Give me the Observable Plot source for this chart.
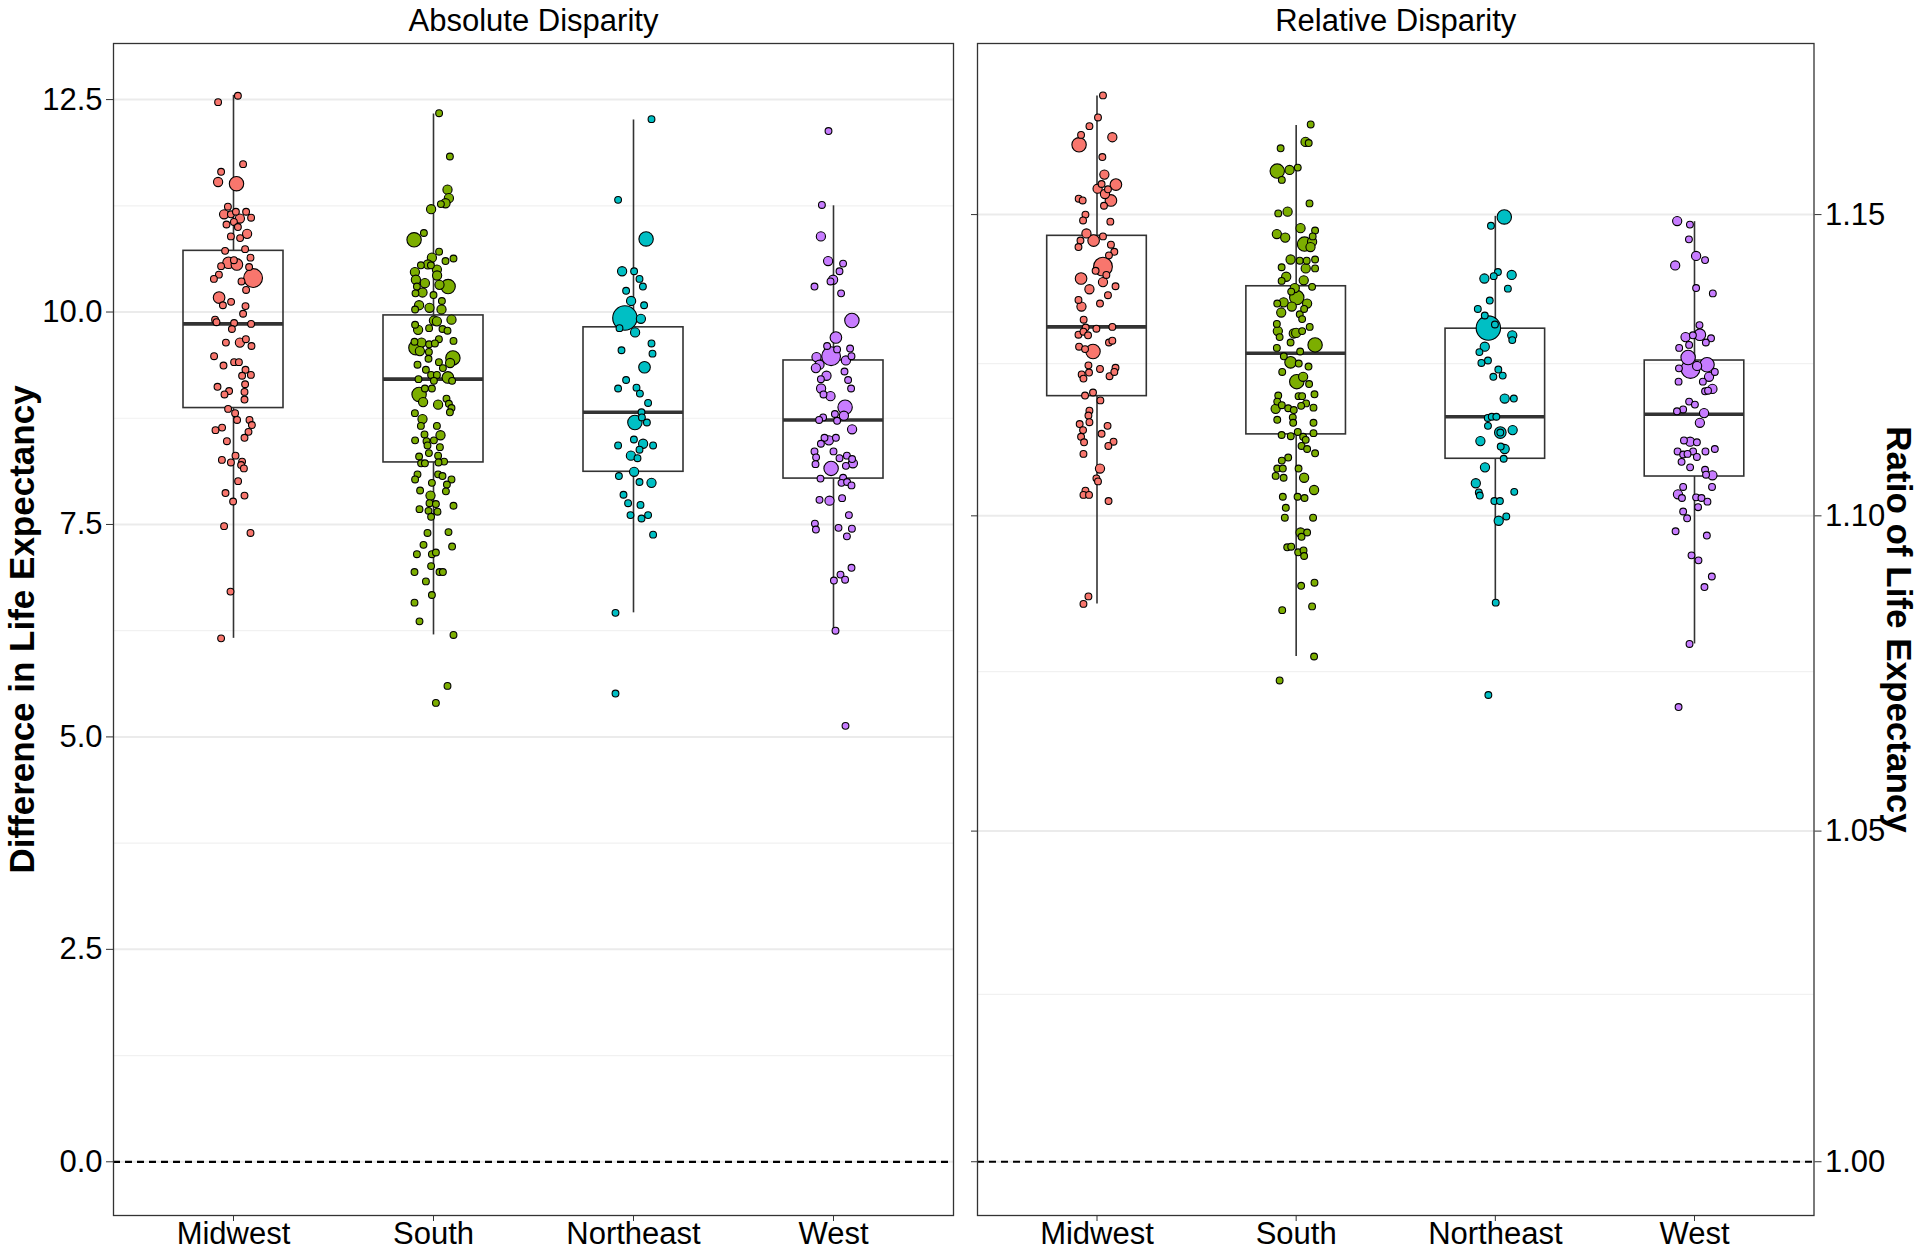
<!DOCTYPE html>
<html>
<head>
<meta charset="utf-8">
<script src="https://cdn.jsdelivr.net/npm/d3@7"></script>
<script src="https://cdn.jsdelivr.net/npm/@observablehq/plot@0.6"></script>
<style>
  html, body { margin: 0; padding: 0; background: #fff; }
  #wrap { position: relative; width: 1920px; height: 1250px; overflow: hidden; }
  #left, #right { position: absolute; top: 0; }
  #left { left: 0; }
  #right { left: 960px; }
</style>
</head>
<body>
<div id="wrap"><div id="left"></div><div id="right"></div></div>
<script>
// ---- categories & styling data ----
const regions = ["Midwest", "South", "Northeast", "West"];
const regionColors = ["#F8766D", "#7CAE00", "#00BFC4", "#C77CFF"];
const sizeRadii = [0, 3.4, 4.6, 5.8, 7.2, 9.4, 12.2]; // size classes 1..6

// ---- tick values ----
const absTicks = [0, 2.5, 5, 7.5, 10, 12.5];
const absMinor = [1.25, 3.75, 6.25, 8.75, 11.25];
const relTicks = [1.00, 1.05, 1.10, 1.15];
const relMinor = [1.025, 1.075, 1.125];

// ---- box statistics (lo, q1, median, q3, hi) per region ----
const absLo  = [6.16, 6.20, 6.46, 6.26];
const absQ1  = [8.87, 8.23, 8.12, 8.04];
const absMed = [9.86, 9.21, 8.82, 8.73];
const absQ3  = [10.72, 9.96, 9.82, 9.43];
const absHi  = [12.55, 12.33, 12.26, 11.25];

const relLo  = [1.0858, 1.0774, 1.0860, 1.0794];
const relQ1  = [1.1196, 1.1133, 1.1093, 1.1064];
const relMed = [1.1311, 1.1267, 1.1162, 1.1166];
const relQ3  = [1.1464, 1.1379, 1.1308, 1.1255];
const relHi  = [1.1703, 1.1652, 1.1497, 1.1488];

// ---- points: [jitter offset, value, size class] ----
const midwestAbs = [[.022,12.545,1],[-.077,12.47,1],[.048,11.74,1],[-.062,11.65,1],[-.077,11.53,2],[.015,11.51,4],[-.028,11.24,1],[-.047,11.15,2],[-.013,11.15,1],[.012,11.18,1],[.032,11.10,2],[.063,11.18,1],[.088,11.11,1],[-.035,11.03,1],[.002,11.06,1],[.022,11.0,1],[.068,10.92,2],[-.013,10.89,1],[.033,10.87,1],[-.042,10.72,1],[.058,10.74,1],[.085,10.64,1],[-.025,10.58,3],[.017,10.56,3],[.002,10.61,1],[.078,10.53,1],[-.062,10.54,1],[-.073,10.44,1],[-.098,10.39,1],[.098,10.40,5],[.04,10.36,1],[.063,10.26,1],[-.072,10.17,3],[-.053,10.08,1],[-.012,10.12,1],[.06,10.07,1],[.048,9.98,1],[-.092,9.91,1],[-.085,9.88,1],[.003,9.87,1],[.088,9.86,1],[-.008,9.80,1],[-.038,9.64,1],[.032,9.64,2],[.062,9.68,1],[.09,9.60,1],[-.097,9.48,1],[-.05,9.37,1],[.003,9.41,1],[.027,9.41,1],[.06,9.32,1],[.043,9.25,1],[.087,9.26,1],[-.08,9.12,1],[-.022,9.07,1],[-.045,9.03,1],[.058,9.15,1],[.055,9.06,1],[.055,8.97,1],[-.027,8.86,1],[.008,8.81,1],[.018,8.73,1],[.08,8.73,1],[.092,8.67,1],[-.09,8.61,1],[-.057,8.64,1],[.075,8.59,1],[.055,8.52,1],[-.033,8.48,1],[.01,8.31,1],[-.058,8.26,1],[-.013,8.23,1],[.043,8.24,1],[.038,8.20,1],[.052,8.16,1],[.023,8.01,1],[-.04,7.87,1],[.055,7.84,1],[-.002,7.77,1],[-.047,7.48,1],[.085,7.40,1],[-.015,6.71,1],[-.062,6.16,1]];

const southAbs = [[.028,12.34,1],[.082,11.83,1],[.07,11.44,2],[.077,11.34,2],[.06,11.28,2],[.037,11.27,1],[-.012,11.21,2],[-.097,10.85,4],[-.048,10.93,1],[.028,10.71,1],[-.008,10.64,2],[.06,10.60,1],[.1,10.63,1],[-.063,10.55,1],[-.028,10.56,2],[.017,10.5,2],[-.093,10.47,2],[-.013,10.55,1],[.018,10.43,2],[.073,10.30,4],[-.088,10.38,2],[-.043,10.34,2],[-.083,10.30,1],[-.055,10.23,2],[.03,10.32,2],[0,10.20,1],[-.09,10.22,1],[.042,10.13,1],[-.072,10.08,2],[-.02,10.05,2],[.04,10.03,2],[-.092,10.03,1],[.09,9.91,2],[.002,9.90,2],[.017,9.89,2],[-.092,9.85,1],[-.077,9.79,2],[-.022,9.81,1],[.045,9.80,1],[.07,9.78,1],[.1,9.66,1],[.027,9.68,1],[-.095,9.65,1],[-.06,9.64,2],[-.022,9.62,1],[.007,9.63,1],[-.088,9.58,4],[-.068,9.54,2],[-.023,9.53,1],[.097,9.46,4],[.083,9.40,2],[.027,9.41,1],[-.08,9.38,1],[-.025,9.45,1],[.047,9.34,1],[-.038,9.32,1],[-.012,9.26,1],[.017,9.26,1],[.072,9.23,3],[-.075,9.21,1],[.002,9.19,1],[.093,9.19,1],[-.043,9.10,1],[-.008,9.10,1],[-.072,9.03,4],[-.052,8.94,2],[.023,8.91,2],[.065,8.98,1],[.077,8.92,1],[.09,8.87,1],[.082,8.82,1],[-.093,8.81,1],[-.055,8.74,2],[-.063,8.66,1],[.017,8.66,1],[.035,8.55,2],[-.092,8.49,1],[-.045,8.56,1],[-.035,8.48,1],[.002,8.49,1],[-.03,8.43,1],[.032,8.41,1],[-.072,8.30,1],[-.023,8.34,1],[.023,8.31,1],[-.062,8.22,1],[-.043,8.22,1],[.053,8.24,1],[.025,8.23,1],[-.08,8.09,1],[.023,8.09,1],[.045,8.07,1],[-.092,8.03,1],[.09,8.03,1],[-.008,7.99,1],[-.067,7.90,1],[.067,7.97,1],[.062,7.89,1],[-.015,7.84,2],[-.02,7.75,1],[.012,7.74,1],[-.07,7.68,1],[-.025,7.66,1],[.02,7.65,1],[-.012,7.59,1],[.1,7.72,1],[-.03,7.40,1],[.075,7.41,1],[-.05,7.26,1],[.093,7.24,1],[-.083,7.15,1],[-.008,7.15,1],[.012,7.17,1],[-.012,7.01,1],[-.095,6.94,1],[-.038,6.83,1],[.03,6.94,1],[.047,6.94,1],[-.008,6.67,1],[-.095,6.58,1],[-.07,6.36,1],[.1,6.20,1],[.07,5.60,1],[.012,5.40,1]];

const northeastAbs = [[.09,12.27,1],[-.077,11.32,1],[.063,10.86,4],[-.057,10.48,2],[.003,10.48,1],[.03,10.39,1],[.047,10.30,1],[-.037,10.25,1],[-.012,10.13,2],[.053,10.08,1],[-.043,9.93,6],[.037,9.92,2],[-.07,9.81,1],[.008,9.76,2],[.09,9.63,1],[.095,9.51,1],[-.06,9.55,1],[.055,9.35,3],[-.037,9.20,1],[-.077,9.10,1],[.015,9.11,1],[.032,9.04,1],[.073,8.93,1],[.04,8.82,1],[.042,8.76,1],[.007,8.70,4],[.067,8.70,1],[.002,8.50,1],[-.077,8.43,1],[.048,8.45,2],[.098,8.43,1],[.03,8.38,1],[-.013,8.31,2],[.02,8.28,1],[.003,8.12,2],[-.073,8.07,1],[.03,8.0,1],[.09,7.99,2],[-.05,7.85,1],[-.027,7.75,1],[.035,7.73,1],[-.015,7.61,1],[.073,7.61,1],[.04,7.57,1],[.098,7.38,1],[-.09,6.46,1],[-.09,5.51,1]];

const westAbs = [[-.025,12.13,1],[-.058,11.26,1],[-.063,10.89,2],[-.027,10.60,2],[.048,10.57,1],[.03,10.48,1],[-.002,10.38,2],[-.015,10.36,1],[-.095,10.30,1],[.038,10.22,1],[.092,9.90,4],[.012,9.70,3],[-.032,9.60,1],[.018,9.56,1],[.083,9.57,1],[-.012,9.48,5],[-.085,9.47,2],[.062,9.43,2],[.09,9.48,1],[-.07,9.38,2],[-.088,9.34,2],[-.035,9.25,2],[.055,9.30,1],[-.063,9.21,1],[.073,9.20,1],[-.062,9.10,2],[.088,9.10,1],[-.05,9.03,1],[-.015,9.01,2],[.058,8.88,4],[.052,8.78,2],[.007,8.80,1],[-.052,8.76,1],[-.072,8.73,1],[.018,8.72,1],[.093,8.62,2],[-.045,8.52,1],[-.023,8.49,2],[.012,8.52,1],[-.063,8.45,1],[-.095,8.36,1],[0,8.36,1],[-.087,8.29,1],[.03,8.28,1],[.067,8.31,1],[.093,8.27,1],[.097,8.22,2],[-.09,8.21,1],[.062,8.19,1],[-.012,8.16,4],[-.065,8.04,1],[.048,8.05,1],[.04,7.99,1],[.068,8.0,1],[.09,7.96,1],[-.07,7.79,1],[-.02,7.78,2],[.043,7.81,1],[.077,7.61,1],[-.093,7.51,1],[-.088,7.44,1],[.025,7.46,1],[.092,7.45,1],[.067,7.36,1],[.09,6.99,1],[.035,6.91,1],[.058,6.85,1],[.002,6.84,1],[.01,6.25,1],[.06,5.13,1]];

const midwestRel = [[.03,1.1704,1],[.005,1.1666,1],[-.038,1.1651,1],[-.08,1.1636,1],[-.09,1.1619,4],[.077,1.1632,2],[.027,1.1598,1],[.037,1.1568,2],[.095,1.1551,3],[.023,1.1552,1],[.003,1.1544,2],[.055,1.1543,1],[.04,1.1535,2],[.07,1.1524,3],[-.092,1.1527,1],[-.072,1.1524,1],[.035,1.1515,1],[-.058,1.1500,1],[-.07,1.1490,1],[.067,1.1488,1],[-.053,1.1468,2],[-.017,1.1456,3],[.03,1.1463,1],[-.083,1.1456,1],[-.093,1.1445,1],[.07,1.1449,1],[.087,1.1437,1],[.06,1.1431,1],[.03,1.1412,5],[-.007,1.1405,1],[.047,1.1398,1],[-.08,1.1392,3],[.03,1.1386,2],[.093,1.1379,1],[-.038,1.1374,2],[.055,1.1364,1],[-.093,1.1356,1],[-.078,1.1345,2],[.015,1.1350,1],[-.067,1.1323,1],[.077,1.1311,1],[-.003,1.1308,1],[-.057,1.1310,1],[-.093,1.1298,1],[-.068,1.1303,1],[-.045,1.1297,1],[.06,1.1285,1],[.077,1.1288,1],[-.09,1.1278,1],[-.02,1.1270,4],[-.06,1.1274,1],[-.043,1.1247,1],[.015,1.1241,1],[.093,1.1243,1],[-.077,1.1232,1],[-.04,1.1235,1],[-.068,1.1225,1],[.063,1.1229,1],[.087,1.1236,1],[-.06,1.1197,1],[-.02,1.1202,1],[.017,1.1189,1],[-.038,1.1172,1],[-.043,1.1164,1],[-.038,1.1153,1],[-.087,1.1150,1],[.053,1.1147,1],[-.07,1.1140,1],[-.08,1.1129,1],[.023,1.1134,1],[-.065,1.1120,1],[.083,1.1121,1],[.057,1.1114,1],[-.068,1.1101,1],[.015,1.1077,2],[-.003,1.1061,1],[.005,1.1056,1],[-.058,1.1041,1],[-.068,1.1034,1],[-.04,1.1034,1],[.058,1.1024,1],[-.043,1.0870,1],[-.068,1.0858,1]];

const southRel = [[.073,1.1654,1],[.047,1.1624,2],[.063,1.1622,1],[-.078,1.1613,1],[-.095,1.1574,4],[-.033,1.1576,2],[.008,1.1580,1],[-.072,1.1559,1],[.067,1.1519,1],[-.09,1.1502,1],[-.043,1.1505,2],[.022,1.1477,2],[.095,1.1473,1],[-.097,1.1467,2],[-.055,1.1461,2],[.083,1.1463,1],[.08,1.1454,2],[.042,1.1450,4],[.072,1.1445,2],[-.028,1.1424,2],[.018,1.1422,1],[.053,1.1422,1],[.095,1.1424,1],[-.073,1.1411,1],[.048,1.1409,2],[.095,1.1409,1],[-.05,1.1395,2],[.038,1.1389,2],[-.073,1.1388,1],[-.007,1.1376,2],[.08,1.1378,1],[-.025,1.1370,1],[.003,1.1360,4],[-.095,1.1350,1],[-.063,1.1352,2],[.055,1.1350,2],[-.022,1.1345,2],[-.075,1.1335,2],[.018,1.1332,1],[.04,1.1341,1],[-.097,1.1316,1],[.03,1.1324,1],[.068,1.1311,1],[-.092,1.1304,2],[-.012,1.1300,2],[0,1.1301,2],[.03,1.1304,1],[-.083,1.1294,1],[-.028,1.1285,1],[.095,1.1281,4],[-.097,1.1276,1],[.02,1.1270,1],[-.062,1.1262,1],[-.028,1.1252,3],[.013,1.1250,1],[.062,1.1245,1],[-.07,1.1236,1],[.035,1.1228,2],[.003,1.1220,4],[.065,1.1216,1],[-.09,1.1197,1],[.012,1.1196,1],[.03,1.1196,1],[.092,1.1199,1],[-.095,1.1187,1],[-.103,1.1175,2],[-.072,1.1181,1],[-.04,1.1176,1],[.05,1.1184,1],[.025,1.1180,1],[.087,1.1177,1],[-.012,1.1173,1],[-.095,1.1157,1],[-.017,1.1161,1],[-.015,1.1152,1],[.087,1.1152,1],[-.073,1.1132,1],[-.027,1.1130,1],[.008,1.1137,1],[.035,1.1129,1],[.087,1.1135,1],[.048,1.1124,1],[.027,1.1114,1],[.055,1.1109,1],[.095,1.1102,1],[-.04,1.1095,1],[-.072,1.1090,1],[-.095,1.1077,1],[-.067,1.1077,1],[.012,1.1077,1],[-.103,1.1065,1],[-.063,1.1062,1],[.04,1.1062,2],[.09,1.1042,2],[-.067,1.1031,1],[.007,1.1031,1],[.042,1.1029,1],[-.052,1.1013,1],[-.057,1.0997,1],[.085,1.0997,1],[.022,1.0973,2],[.055,1.0973,1],[.027,1.0966,1],[-.045,1.0949,1],[-.025,1.0950,1],[.01,1.0941,1],[.037,1.0944,1],[.04,1.0935,1],[.025,1.0887,1],[.092,1.0892,1],[-.07,1.0848,1],[.08,1.0854,1],[.09,1.0774,1],[-.083,1.0736,1]];

const northeastRel = [[.045,1.1496,4],[-.022,1.1481,1],[.013,1.1403,1],[-.008,1.1396,1],[-.055,1.1392,2],[.082,1.1398,2],[.063,1.1375,1],[-.028,1.1355,1],[-.088,1.1341,1],[-.053,1.1330,1],[-.035,1.1309,6],[-.002,1.1315,1],[.085,1.1297,2],[.085,1.1289,1],[-.053,1.1278,2],[-.08,1.1269,1],[-.037,1.1255,1],[-.07,1.1251,1],[.015,1.1240,1],[.037,1.1230,1],[-.01,1.1228,1],[.047,1.1192,2],[.093,1.1192,1],[-.038,1.1160,1],[-.018,1.1162,1],[.005,1.1162,1],[-.037,1.1147,1],[.025,1.1136,3],[.025,1.1136,1],[.087,1.1140,2],[-.075,1.1122,2],[.027,1.1113,1],[.047,1.1109,2],[.042,1.1093,1],[-.052,1.1079,2],[-.098,1.1053,2],[-.083,1.1038,1],[-.078,1.1033,1],[.095,1.1039,1],[-.005,1.1024,1],[.023,1.1024,1],[.017,1.0992,2],[.055,1.0999,1],[.002,1.0860,1],[-.035,1.0713,1]];

const westRel = [[-.087,1.1489,2],[-.023,1.1483,1],[-.028,1.1458,1],[.008,1.1430,2],[.053,1.1423,1],[-.097,1.1414,2],[.008,1.1376,1],[.092,1.1367,1],[.025,1.1314,1],[-.045,1.1294,2],[.027,1.1298,3],[-.008,1.1297,1],[.083,1.1292,1],[-.027,1.1281,1],[.057,1.1285,1],[-.077,1.1276,1],[-.032,1.1260,4],[-.02,1.1241,5],[.063,1.1248,4],[.013,1.1246,2],[-.078,1.1242,1],[.102,1.1236,1],[.073,1.1228,2],[.042,1.1220,1],[-.08,1.1220,1],[.09,1.1208,2],[.053,1.1204,1],[.068,1.1205,1],[-.027,1.1187,1],[.002,1.1182,1],[-.057,1.1174,1],[-.088,1.1171,1],[.048,1.1168,2],[.027,1.1152,2],[-.053,1.1123,1],[-.022,1.1121,2],[.012,1.1120,1],[-.085,1.1105,1],[-.057,1.1100,1],[-.007,1.1105,1],[-.035,1.1101,1],[.055,1.1105,1],[.102,1.1109,1],[.012,1.1096,1],[-.065,1.1088,1],[-.022,1.1079,1],[.053,1.1075,1],[.09,1.1066,2],[.058,1.1067,1],[.088,1.1047,1],[-.057,1.1047,1],[-.083,1.1035,2],[-.063,1.1029,1],[.008,1.1030,1],[.035,1.1029,1],[.065,1.1023,1],[.018,1.1014,1],[-.057,1.1007,1],[-.037,1.0996,1],[-.095,1.0975,1],[.062,1.0968,1],[-.015,1.0936,1],[.02,1.0928,1],[.087,1.0902,1],[.05,1.0885,1],[-.025,1.0794,1],[-.08,1.0694,1]];

// ---- build tables ----
function pointsTable(lists) {
  const out = [];
  lists.forEach((list, i) => list.forEach(([dx, v, c]) =>
    out.push({x: i + dx, y: v, r: sizeRadii[c], fill: regionColors[i]})));
  return out;
}
function boxTable(lo, q1, med, q3, hi) {
  return regions.map((name, i) => ({i, lo: lo[i], q1: q1[i], med: med[i], q3: q3[i], hi: hi[i]}));
}
const absPoints = pointsTable([midwestAbs, southAbs, northeastAbs, westAbs]);
const relPoints = pointsTable([midwestRel, southRel, northeastRel, westRel]);
const absBoxes = boxTable(absLo, absQ1, absMed, absQ3, absHi);
const relBoxes = boxTable(relLo, relQ1, relMed, relQ3, relHi);

const FONT = "'Liberation Sans', Arial, Helvetica, sans-serif";
const BW = 0.25;

function boxMarks(boxes) {
  return [
    Plot.ruleX(boxes, {x: "i", y1: "q3", y2: "hi", stroke: "#333", strokeWidth: 1.6}),
    Plot.ruleX(boxes, {x: "i", y1: "lo", y2: "q1", stroke: "#333", strokeWidth: 1.6}),
    Plot.rect(boxes, {x1: d => d.i - BW, x2: d => d.i + BW, y1: "q1", y2: "q3", fill: "none", stroke: "#333", strokeWidth: 1.6}),
    Plot.ruleY(boxes, {y: "med", x1: d => d.i - BW, x2: d => d.i + BW, stroke: "#333", strokeWidth: 3.6})
  ];
}
function dotMark(points) {
  return Plot.dot(points, {x: "x", y: "y", r: "r", fill: "fill", stroke: "black", strokeWidth: 1.1});
}

const left = Plot.plot({
  width: 960, height: 1250,
  marginLeft: 113, marginRight: 7, marginTop: 43, marginBottom: 35,
  style: {fontFamily: FONT, fontSize: "31px", color: "black", background: "white", overflow: "visible"},
  x: {domain: [-0.6, 3.6], axis: null},
  y: {domain: [-0.632, 13.16], axis: null},
  r: {type: "identity"},
  marks: [
    Plot.ruleY(absMinor, {stroke: "#f1f1f1", strokeWidth: 1.2}),
    Plot.ruleY(absTicks, {stroke: "#ebebeb", strokeWidth: 2}),
    Plot.ruleY([0], {stroke: "black", strokeWidth: 2.2, strokeDasharray: "7,5"}),
    ...boxMarks(absBoxes),
    dotMark(absPoints),
    Plot.frame({stroke: "#333", strokeWidth: 1.3}),
    Plot.axisY({ticks: absTicks, tickFormat: d3.format(".1f"), tickSize: 7, tickPadding: 4, stroke: "#333", label: null, fontSize: 31}),
    Plot.axisX({ticks: [0, 1, 2, 3], tickFormat: i => regions[i], tickSize: 6, tickPadding: 0, stroke: "#333", label: null, fontSize: 31}),
    Plot.text(["Absolute Disparity"], {frameAnchor: "top", dy: -35, text: d => d, fontSize: 31}),
    Plot.text(["Difference in Life Expectancy"], {frameAnchor: "left", dx: -91, rotate: -90, textAnchor: "middle", text: d => d, fontSize: 35, fontWeight: "bold"})
  ]
});
document.getElementById("left").appendChild(left);

const right = Plot.plot({
  width: 960, height: 1250,
  marginLeft: 17, marginRight: 106.5, marginTop: 43, marginBottom: 35,
  style: {fontFamily: FONT, fontSize: "31px", color: "black", background: "white", overflow: "visible"},
  x: {domain: [-0.6, 3.6], axis: null},
  y: {type: "log", domain: [0.9921, 1.1794], axis: null},
  r: {type: "identity"},
  marks: [
    Plot.ruleY(relMinor, {stroke: "#f1f1f1", strokeWidth: 1.2}),
    Plot.ruleY(relTicks, {stroke: "#ebebeb", strokeWidth: 2}),
    Plot.ruleY([1], {stroke: "black", strokeWidth: 2.2, strokeDasharray: "7,5"}),
    ...boxMarks(relBoxes),
    dotMark(relPoints),
    Plot.frame({stroke: "#333", strokeWidth: 1.3}),
    Plot.axisY({anchor: "left", ticks: relTicks, tickFormat: () => "", tickSize: 6, stroke: "#333", label: null}),
    Plot.axisY({anchor: "right", ticks: relTicks, tickFormat: d3.format(".2f"), tickSize: 7, tickPadding: 4, stroke: "#333", label: null, fontSize: 31}),
    Plot.axisX({ticks: [0, 1, 2, 3], tickFormat: i => regions[i], tickSize: 6, tickPadding: 0, stroke: "#333", label: null, fontSize: 31}),
    Plot.text(["Relative Disparity"], {frameAnchor: "top", dy: -35, text: d => d, fontSize: 31}),
    Plot.text(["Ratio of Life Expectancy"], {frameAnchor: "right", dx: 84, rotate: 90, textAnchor: "middle", text: d => d, fontSize: 35, fontWeight: "bold"})
  ]
});
document.getElementById("right").appendChild(right);
</script>
</body>
</html>
